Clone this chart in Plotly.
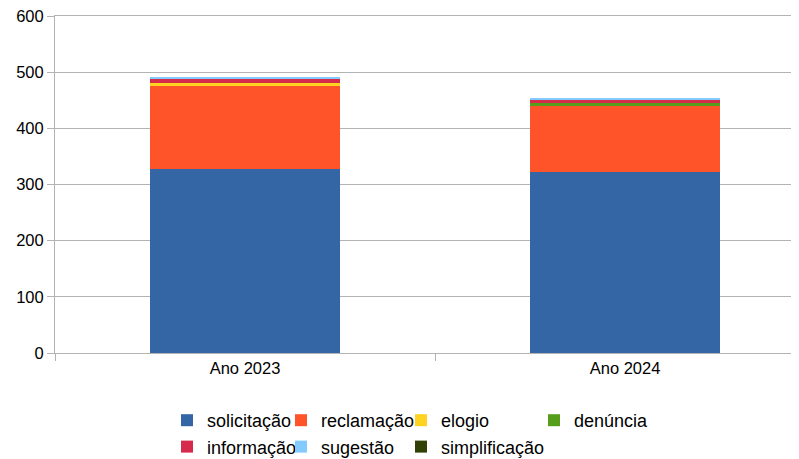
import plotly.graph_objects as go

categories = ["Ano 2023", "Ano 2024"]
series_names = ["solicitação", "reclamação", "elogio", "denúncia",
                "informação", "sugestão", "simplificação"]
solicitacao = [328, 322]
reclamacao = [147, 118]
elogio = [5, 0]
denuncia = [0, 6]
informacao = [9, 5]
sugestao = [3, 3]
simplificacao = [0, 0]
y_ticks = [0, 100, 200, 300, 400, 500, 600]

values = [solicitacao, reclamacao, elogio, denuncia, informacao, sugestao, simplificacao]
colors = ["#3465a4", "#ff5429", "#ffd320", "#579d1c", "#d62a4d", "#83caff", "#314004"]
legend_ids = ["legend", "legend2", "legend3", "legend4", "legend", "legend2", "legend3"]

fig = go.Figure()
for i, (name, vals, col) in enumerate(zip(series_names, values, colors)):
    fig.add_trace(go.Bar(
        x=categories, y=vals, name=name, marker=dict(color=col, line=dict(width=0)),
        width=0.5, legend=legend_ids[i], legendgroup=name,
    ))

legend_x_px = [159, 273, 393, 526]
W, H = 799, 459
common = dict(
    orientation="v", xref="container", yref="container", xanchor="left", yanchor="top",
    font=dict(family="Liberation Sans", size=18, color="#000000"),
    tracegroupgap=0, bgcolor="rgba(0,0,0,0)", itemwidth=30,
)
lay_leg = {}
for k, lid in enumerate(["legend", "legend2", "legend3", "legend4"]):
    lay_leg[lid] = dict(x=legend_x_px[k] / W, y=1 - 394 / H, **common)

fig.update_layout(
    width=W, height=H,
    barmode="stack",
    plot_bgcolor="white", paper_bgcolor="white",
    margin=dict(l=47, r=0, t=8, b=114, autoexpand=False),
    font=dict(family="Liberation Sans", size=16, color="#000000"),
    xaxis=dict(
        type="category", range=[-0.5, -0.5 + 744 / 376],
        tickson="boundaries", ticks="outside", ticklen=7, tickcolor="#b3b3b3",
        showgrid=False, showline=True, linecolor="#b3b3b3", linewidth=1, mirror=True,
        tickfont=dict(size=16.5, color="#000000"), automargin=False,
    ),
    yaxis=dict(
        range=[0, 600], tickvals=y_ticks, ticks="outside", ticklen=7,
        tickcolor="#b3b3b3", showgrid=True, gridcolor="#b3b3b3", gridwidth=1,
        showline=True, linecolor="#b3b3b3", zeroline=False,
        tickfont=dict(size=16.5, color="#000000"), automargin=False,
        ticklabeloverflow="allow",
    ),
    **lay_leg,
)

fig.write_html("out.html")
